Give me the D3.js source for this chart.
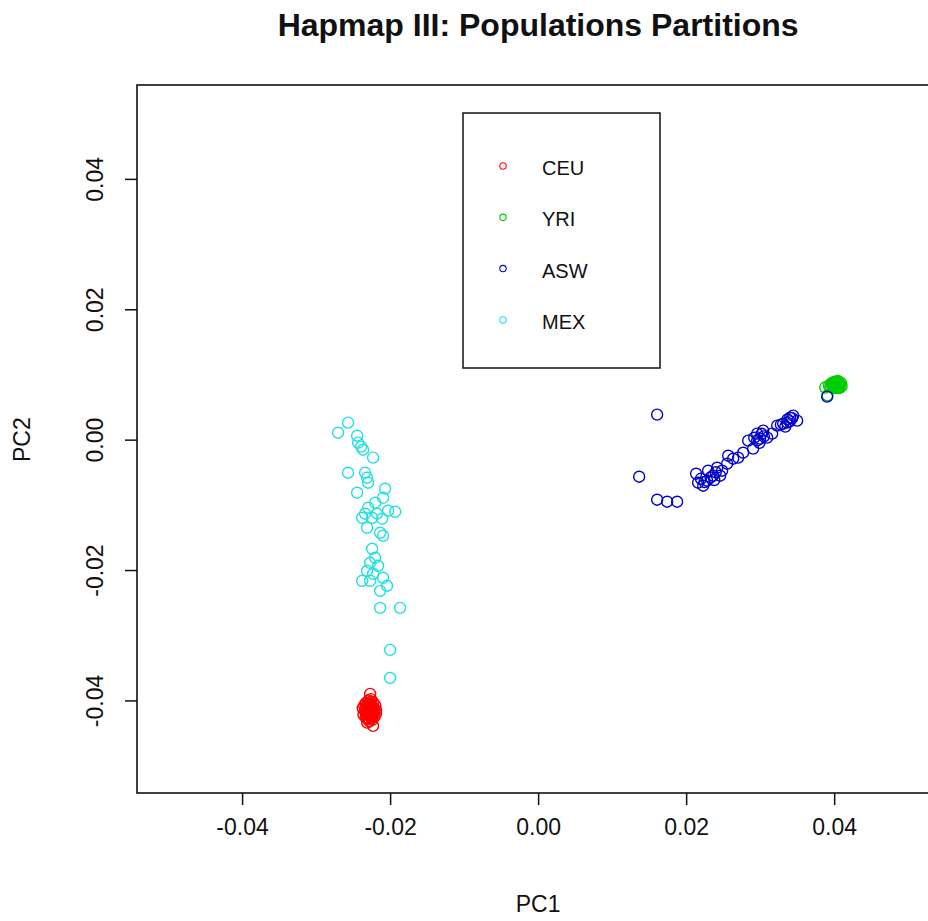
<!DOCTYPE html>
<html>
<meta charset="utf-8">
<script src="https://d3js.org/d3.v7.min.js"></script>
<style>
  body { margin: 0; background: #fff; }
  text { font-family: "Liberation Sans", Arial, sans-serif; fill: #111; }
</style>
<body>
<div id="my_dataviz"></div>
<script>

// populations and their colours (R default palette order)
var populations = ["CEU", "YRI", "ASW", "MEX"];
var popColors = ["#ff0000", "#00cd00", "#0000cd", "#22e0e0"];

// PC1 / PC2 per population
var ceu = [[-0.0227,-0.0390],[-0.0223,-0.0439],[-0.0228,-0.0405],[-0.0232,-0.0410],[-0.0225,-0.0412],
  [-0.0230,-0.0418],[-0.0222,-0.0420],[-0.0234,-0.0415],[-0.0220,-0.0408],[-0.0229,-0.0400],
  [-0.0226,-0.0425],[-0.0231,-0.0428],[-0.0224,-0.0430],[-0.0236,-0.0422],[-0.0219,-0.0415],
  [-0.0233,-0.0404],[-0.0227,-0.0420],[-0.0230,-0.0411],[-0.0223,-0.0403],[-0.0228,-0.0432],
  [-0.0235,-0.0408],[-0.0221,-0.0425],[-0.0226,-0.0398],[-0.0232,-0.0421],[-0.0225,-0.0417],
  [-0.0229,-0.0413],[-0.0219,-0.0420],[-0.0237,-0.0412],[-0.0224,-0.0409],[-0.0231,-0.0434],
  [-0.0228,-0.0416],[-0.0222,-0.0413],[-0.0233,-0.0426],[-0.0226,-0.0406],[-0.0227,-0.0410],
  [-0.0229,-0.0422],[-0.0225,-0.0427],[-0.0230,-0.0405],[-0.0224,-0.0419],[-0.0227,-0.0414],
  [-0.0228,-0.0408],[-0.0226,-0.0418],[-0.0231,-0.0416],[-0.0223,-0.0411],[-0.0228,-0.0424],
  [-0.0233,-0.0418],[-0.0222,-0.0417],[-0.0229,-0.0428],[-0.0226,-0.0402],[-0.0230,-0.0423]];

var yri = [[0.0401,0.0084],[0.0404,0.0086],[0.0398,0.0082],[0.0407,0.0083],[0.0403,0.0079],
  [0.0400,0.0088],[0.0396,0.0085],[0.0409,0.0087],[0.0405,0.0090],[0.0399,0.0079],
  [0.0402,0.0081],[0.0406,0.0080],[0.0397,0.0087],[0.0403,0.0087],[0.0408,0.0084],
  [0.0400,0.0083],[0.0404,0.0082],[0.0401,0.0089],[0.0395,0.0081],[0.0410,0.0082],
  [0.0388,0.0080],[0.0393,0.0083],[0.0406,0.0088],[0.0402,0.0085],[0.0398,0.0086],
  [0.0407,0.0079],[0.0391,0.0068],[0.0403,0.0084],[0.0405,0.0085],[0.0400,0.0086],
  [0.0402,0.0083],[0.0399,0.0084],[0.0404,0.0088],[0.0406,0.0083]];

var asw = [[0.01365,-0.00568],[0.01608,0.00384],[0.01608,-0.00921],[0.01743,-0.00952],[0.01878,-0.00952],
  [0.02135,-0.00522],[0.02162,-0.00660],[0.02230,-0.00706],[0.02284,-0.00630],[0.02297,-0.00476],
  [0.02365,-0.00553],[0.02419,-0.00430],[0.02459,-0.00553],[0.02486,-0.00476],[0.02554,-0.00369],
  [0.02568,-0.00246],[0.02635,-0.00292],[0.02703,-0.00276],[0.02770,-0.00200],[0.02838,-0.00015],
  [0.02905,-0.00138],[0.02959,0.00092],[0.03000,0.00015],[0.03041,0.00138],[0.03095,0.00031],
  [0.03162,0.00092],[0.03230,0.00215],[0.03311,0.00246],[0.03365,0.00261],[0.03405,0.00338],
  [0.03446,0.00369],[0.03500,0.00292],[0.03905,0.00660],[0.02200,-0.00600],[0.02330,-0.00580],
  [0.02400,-0.00500],[0.02920,0.00030],[0.02990,-0.00050],[0.03050,0.00050],[0.03280,0.00230],
  [0.03400,0.00280],[0.03340,0.00200],[0.02250,-0.00650],[0.02380,-0.00620],[0.02960,-0.00010],
  [0.03020,0.00090],[0.03370,0.00310],[0.03430,0.00330]];

var mex = [[-0.02568,0.00261],[-0.02703,0.00107],[-0.02446,0.00061],[-0.02432,-0.00046],[-0.02392,-0.00107],
  [-0.02365,-0.00154],[-0.02230,-0.00276],[-0.02568,-0.00507],[-0.02338,-0.00507],[-0.02311,-0.00584],
  [-0.02297,-0.00660],[-0.02446,-0.00814],[-0.02068,-0.00752],[-0.02095,-0.00891],[-0.02203,-0.00967],
  [-0.02297,-0.01044],[-0.01932,-0.01106],[-0.02338,-0.01136],[-0.02176,-0.01136],[-0.02027,-0.01090],
  [-0.02243,-0.01198],[-0.02378,-0.01198],[-0.02108,-0.01213],[-0.02311,-0.01351],[-0.02135,-0.01428],
  [-0.02095,-0.01474],[-0.02243,-0.01674],[-0.02203,-0.01812],[-0.02270,-0.01889],[-0.02162,-0.01935],
  [-0.02311,-0.02012],[-0.02230,-0.02058],[-0.02095,-0.02119],[-0.02378,-0.02165],[-0.02270,-0.02165],
  [-0.02041,-0.02242],[-0.02135,-0.02319],[-0.02135,-0.02580],[-0.01865,-0.02580],[-0.02000,-0.03225],
  [-0.02000,-0.03655]];

var popData = [ceu, yri, asw, mex];
var xTicks = [-0.04, -0.02, 0.00, 0.02, 0.04];
var yTicks = [-0.04, -0.02, 0.00, 0.02, 0.04];

var width = 928, height = 921;
var margin = {top: 85, right: -12, bottom: 128, left: 137};

// R prints a plain hyphen for negatives
var fmt = function(d) { return d3.format(".2f")(d).replace("\u2212", "-"); };

var svg = d3.select("#my_dataviz")
  .append("svg")
    .attr("width", width)
    .attr("height", height);

var x = d3.scaleLinear()
    .domain([-0.0542, 0.0543])
    .range([margin.left, width - margin.right]);
var y = d3.scaleLinear()
    .domain([-0.0542, 0.0544])
    .range([height - margin.bottom, margin.top]);

// title
svg.append("text")
    .attr("x", x(0))
    .attr("y", 36)
    .attr("text-anchor", "middle")
    .style("font-weight", "bold")
    .style("font-size", "32px")
    .text("Hapmap III: Populations Partitions");

// axes, R style: no domain line, ticks outside
var xAxis = svg.append("g")
    .attr("transform", "translate(0," + y.range()[0] + ")")
    .call(d3.axisBottom(x).tickValues(xTicks).tickSize(12).tickPadding(14).tickFormat(fmt));
xAxis.select(".domain").remove();
xAxis.selectAll("line").attr("stroke", "#111").attr("stroke-width", 1.5);
xAxis.selectAll("text").style("font-size", "23px").attr("fill", "#111");

var yAxis = svg.append("g")
    .attr("transform", "translate(" + margin.left + ",0)")
    .call(d3.axisLeft(y).tickValues(yTicks).tickSize(12).tickFormat(fmt));
yAxis.select(".domain").remove();
yAxis.selectAll("line").attr("stroke", "#111").attr("stroke-width", 1.5);
yAxis.selectAll("text")
    .style("font-size", "23px")
    .attr("fill", "#111")
    .attr("x", 0).attr("dy", null)
    .attr("text-anchor", "middle")
    .attr("transform", "translate(-34,0) rotate(-90)");

// axis labels
svg.append("text")
    .attr("x", x(0))
    .attr("y", 912)
    .attr("text-anchor", "middle")
    .style("font-size", "23px")
    .text("PC1");
svg.append("text")
    .attr("transform", "translate(30," + y(0) + ") rotate(-90)")
    .attr("text-anchor", "middle")
    .style("font-size", "23px")
    .text("PC2");

// points
var order = [0, 1, 2, 3];
order.forEach(function(i) {
  svg.append("g")
    .selectAll("circle")
    .data(popData[i])
    .enter()
    .append("circle")
      .attr("cx", function(d) { return x(d[0]); })
      .attr("cy", function(d) { return y(d[1]); })
      .attr("r", 5.5)
      .attr("fill", "none")
      .attr("stroke", popColors[i])
      .attr("stroke-width", 1.4);
});

// plot box
svg.append("rect")
    .attr("x", x.range()[0])
    .attr("y", y.range()[1])
    .attr("width", x.range()[1] - x.range()[0])
    .attr("height", y.range()[0] - y.range()[1])
    .attr("fill", "none")
    .attr("stroke", "#111")
    .attr("stroke-width", 1.6);

// legend
var legend = svg.append("g");
legend.append("rect")
    .attr("x", 463).attr("y", 113)
    .attr("width", 197).attr("height", 255)
    .attr("fill", "#fff")
    .attr("stroke", "#111")
    .attr("stroke-width", 1.5);

var item = legend.selectAll("g.item")
    .data(populations)
    .enter()
    .append("g")
      .attr("class", "item")
      .attr("transform", function(d, i) { return "translate(503," + (166 + i * 51.3) + ")"; });
item.append("circle")
    .attr("r", 3.2)
    .attr("fill", "none")
    .attr("stroke", function(d, i) { return popColors[i]; })
    .attr("stroke-width", 1.1);
item.append("text")
    .attr("x", 39)
    .attr("y", 2)
    .attr("dy", "0.35em")
    .style("font-size", "20px")
    .text(function(d) { return d; });

</script>
</body>
</html>
